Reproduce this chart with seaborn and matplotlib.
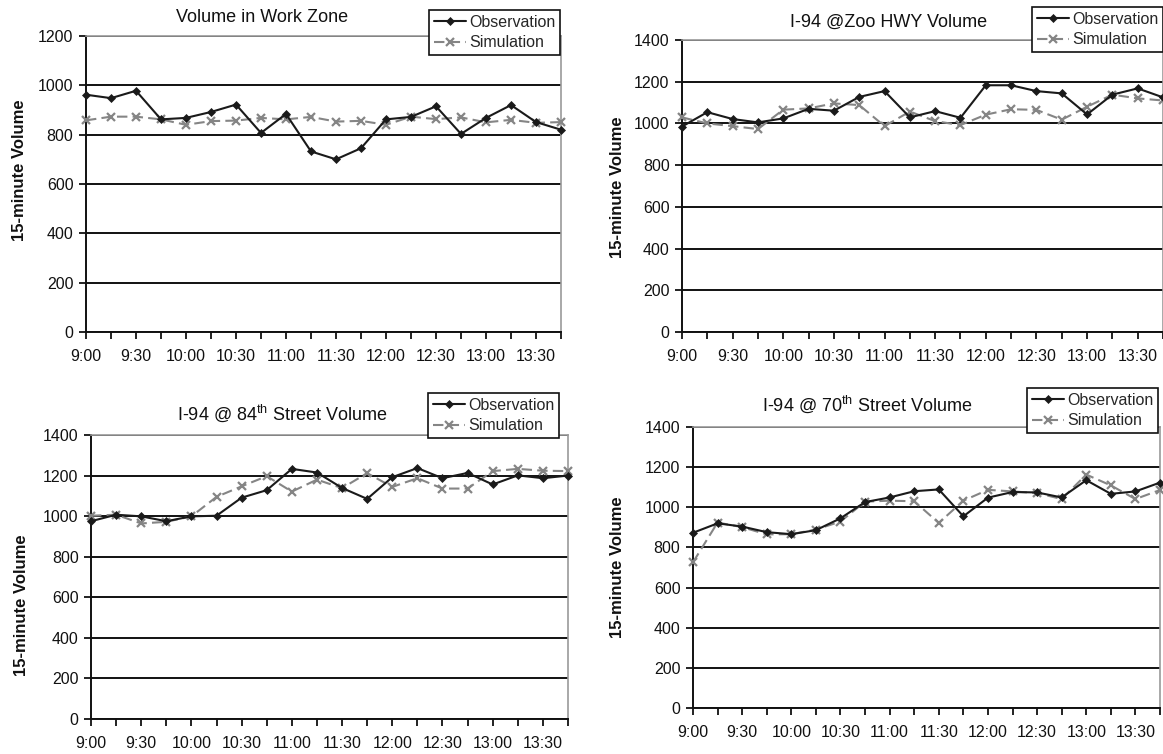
import numpy as np
import pandas as pd
import matplotlib
matplotlib.use("Agg")
import matplotlib.pyplot as plt
import seaborn as sns

# time axis: 15-minute intervals from 9:00 to 13:45
times = ["9:00", "9:15", "9:30", "9:45", "10:00", "10:15", "10:30", "10:45",
         "11:00", "11:15", "11:30", "11:45", "12:00", "12:15", "12:30", "12:45",
         "13:00", "13:15", "13:30", "13:45"]
tick_labels = ["9:00", "9:30", "10:00", "10:30", "11:00", "11:30",
               "12:00", "12:30", "13:00", "13:30"]

# Volume in Work Zone
wz_obs = [962, 948, 978, 862, 868, 892, 922, 807, 884, 732, 700, 745,
          862, 872, 915, 803, 868, 920, 851, 820]
wz_sim = [858, 873, 873, 862, 840, 855, 857, 868, 862, 872, 853, 856,
          840, 873, 863, 870, 850, 860, 848, 851]

# I-94 @Zoo HWY
zoo_obs = [985, 1054, 1021, 1005, 1024, 1070, 1061, 1127, 1155, 1029, 1059, 1027,
           1183, 1183, 1155, 1144, 1043, 1138, 1168, 1125]
zoo_sim = [1029, 1000, 987, 973, 1066, 1072, 1096, 1088, 987, 1057, 1011, 992,
           1042, 1068, 1065, 1018, 1080, 1138, 1120, 1110]

# I-94 @ 84th Street
s84_obs = [975, 1007, 999, 975, 999, 1002, 1091, 1128, 1233, 1215, 1139, 1085,
           1192, 1237, 1187, 1213, 1156, 1201, 1187, 1200]
s84_sim = [1002, 1007, 964, 972, 999, 1095, 1147, 1197, 1121, 1180, 1138, 1212,
           1144, 1187, 1136, 1136, 1222, 1233, 1224, 1222]

# I-94 @ 70th Street
s70_obs = [873, 920, 904, 876, 866, 886, 945, 1026, 1049, 1080, 1089, 955,
           1048, 1076, 1074, 1049, 1135, 1067, 1079, 1123]
s70_sim = [726, 924, 901, 865, 866, 889, 929, 1028, 1033, 1030, 922, 1033,
           1087, 1079, 1071, 1041, 1163, 1109, 1041, 1086]

W, H = 1163, 754
OBS_C = "#1a1a1a"
SIM_C = "#858585"

sns.set_style("white")
plt.rcParams['font.family'] = ['Liberation Sans', 'DejaVu Sans']
plt.rcParams['mathtext.fontset'] = 'custom'
plt.rcParams['mathtext.rm'] = 'Liberation Sans'
plt.rcParams['mathtext.it'] = 'Liberation Sans'

fig = plt.figure(figsize=(W / 100, H / 100), dpi=100)
fig.patch.set_facecolor("white")


def rect(l, t, r, b):
    return [l / W, 1 - b / H, (r - l) / W, (b - t) / H]


panels = [
    dict(obs=wz_obs, sim=wz_sim, ymax=1200, box=(86, 36, 561, 332),
         title="Volume in Work Zone", tpos=(262, 18), ypos=(20, 170),
         leg=(429, 10, 557, 59)),
    dict(obs=zoo_obs, sim=zoo_sim, ymax=1400, box=(682, 40, 1163, 332),
         title="I-94 @Zoo HWY Volume", tpos=(889, 22), ypos=(617, 187),
         leg=(1032, 7, 1175, 58)),
    dict(obs=s84_obs, sim=s84_sim, ymax=1400, box=(91, 435, 568, 719),
         title=r"I-94 @ 84$^{\rm th}$ Street Volume", tpos=(282, 413), ypos=(22, 605),
         leg=(428, 393, 557, 442)),
    dict(obs=s70_obs, sim=s70_sim, ymax=1400, box=(693, 427, 1160, 708),
         title=r"I-94 @ 70$^{\rm th}$ Street Volume", tpos=(867, 404), ypos=(617, 567),
         leg=(1027, 388, 1156, 436)),
]

x = np.arange(len(times))

for p in panels:
    ax = fig.add_axes(rect(*p["box"]))
    df = pd.DataFrame({"pos": x, "Observation": p["obs"], "Simulation": p["sim"]})

    ax.yaxis.grid(True, color="#111111", linewidth=1.4)
    ax.set_axisbelow(True)

    sns.lineplot(data=df, x="pos", y="Observation", ax=ax, color=OBS_C,
                 linewidth=1.5, marker="D", markersize=4.5, markeredgewidth=0.5,
                 markeredgecolor=OBS_C, markerfacecolor=OBS_C,
                 label="Observation", clip_on=False, zorder=4)
    sns.lineplot(data=df, x="pos", y="Simulation", ax=ax, color=SIM_C,
                 linewidth=1.5, linestyle=(0, (5, 2.5)), marker="x",
                 markersize=6, markeredgewidth=1.6, markeredgecolor=SIM_C,
                 label="Simulation", clip_on=False, zorder=3)

    ax.set_xlim(0, len(times) - 1)
    ax.set_ylim(0, p["ymax"])
    ax.set_yticks(np.arange(0, p["ymax"] + 1, 200))
    ax.set_xticks(x)
    ax.set_xticklabels([t if t in tick_labels else "" for t in times])
    ax.tick_params(axis="x", direction="out", length=5, width=1.3, color="#111111",
                   pad=7, labelsize=11.5, bottom=True, labelcolor="#111111")
    ax.tick_params(axis="y", direction="out", length=5, width=1.3, color="#111111",
                   pad=4, labelsize=11.5, left=True, labelcolor="#111111")
    ax.set_xlabel("")
    ax.set_ylabel("")

    for side in ["left", "bottom"]:
        ax.spines[side].set_color("#111111")
        ax.spines[side].set_linewidth(1.4)
    for side in ["top", "right"]:
        ax.spines[side].set_color("#9a9a9a")
        ax.spines[side].set_linewidth(1.2)

    l, t, r, b = p["leg"]
    ax.legend(loc="upper left", bbox_to_anchor=(l / W, 1 - t / H),
              bbox_transform=fig.transFigure, fontsize=11.5, frameon=True,
              fancybox=False, edgecolor="#111111", framealpha=1,
              handlelength=2.0, handletextpad=0.2, borderpad=0.3,
              labelspacing=0.35, borderaxespad=0)
    ax.get_legend().get_frame().set_linewidth(1.2)

    fig.text(p["tpos"][0] / W, 1 - p["tpos"][1] / H, p["title"], ha="center",
             va="center", fontsize=13, color="#111111")
    fig.text(p["ypos"][0] / W, 1 - p["ypos"][1] / H, "15-minute Volume",
             ha="center", va="center", rotation=90, fontsize=12,
             fontweight="bold", color="#111111")

fig.savefig("out.png", dpi=100, facecolor="white")
